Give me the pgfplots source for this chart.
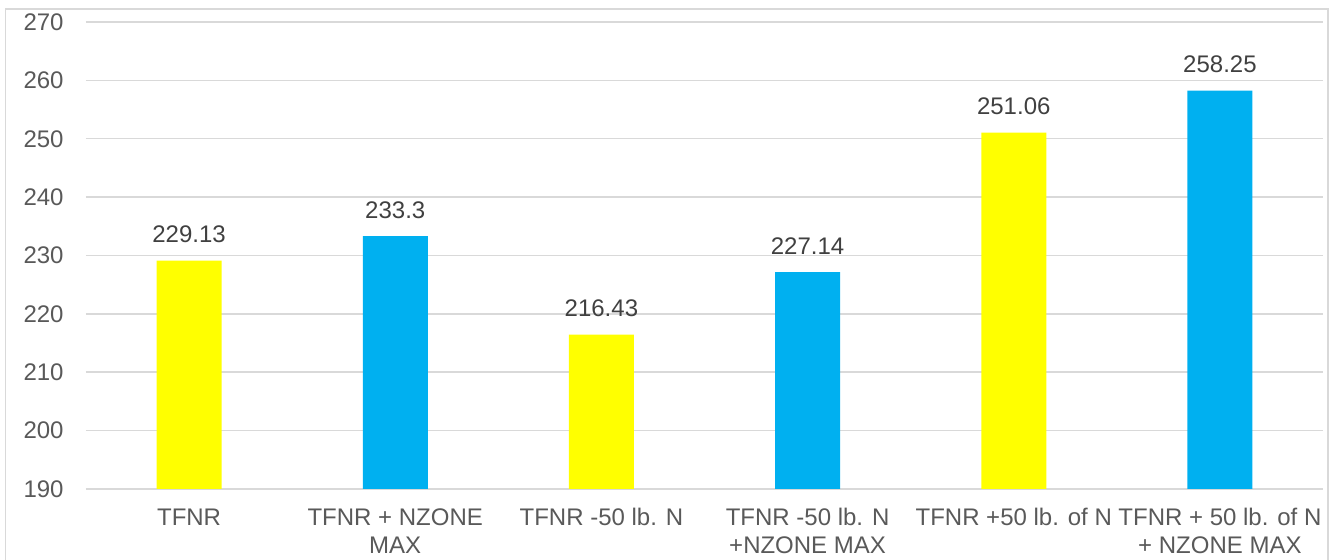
\documentclass[border=0pt]{standalone}
\usepackage{fontspec}
\setmainfont{Liberation Sans}
\usepackage{pgfplots}
\pgfplotsset{compat=1.18}
\definecolor{gridgray}{HTML}{D9D9D9}
\definecolor{ticktext}{HTML}{595959}
\definecolor{labeltext}{HTML}{404040}
\definecolor{baryellow}{HTML}{FFFF00}
\definecolor{barblue}{HTML}{00B0F0}
\begin{document}
\begin{tikzpicture}
\useasboundingbox (-43pt,-35.5pt) rectangle (622.5pt,244.5pt);
\draw[gridgray, line width=0.9pt] (-40.25pt,-40pt) -- (-40.25pt,240pt) -- (621pt,240pt) -- (621pt,-40pt);
\begin{axis}[
  at={(0,0)}, anchor=south west,
  scale only axis, width=618.5pt, height=233.5pt,
  xmin=-0.5, xmax=5.5, ymin=190, ymax=270,
  ytick={190,200,...,270},
  xtick={0,1,2,3,4,5},
  xticklabels={{TFNR\\\mbox{}}, {TFNR + NZONE\\MAX}, {TFNR -50 lb. N\\\mbox{}}, {TFNR -50 lb. N\\+NZONE MAX}, {TFNR +50 lb. of N\\\mbox{}}, {TFNR + 50 lb. of N\\+ NZONE MAX}},
  axis line style={draw=none},
  major tick length=0pt,
  ymajorgrids, grid style={gridgray, line width=0.75pt},
  /pgf/number format/assume math mode=true,
  yticklabel style={anchor=east, inner sep=0pt, xshift=-11pt, text=ticktext, font=\fontsize{12pt}{14pt}\selectfont},
  xticklabel style={anchor=base, inner sep=0pt, yshift=-32.25pt, align=center, text=ticktext, font=\fontsize{12pt}{13.75pt}\selectfont},
  ybar, bar width=32.5pt,
  every axis plot/.append style={bar shift=0pt, draw=none},
  nodes near coords, point meta=explicit symbolic,
  nodes near coords style={anchor=base, inner sep=0pt, yshift=9pt, text=labeltext, font=\fontsize{12pt}{14pt}\selectfont},
]
\addplot[fill=baryellow] coordinates {(0,229.13) [229.13] (2,216.43) [216.43] (4,251.06) [251.06]};
\addplot[fill=barblue] coordinates {(1,233.3) [233.3] (3,227.14) [227.14] (5,258.25) [258.25]};
\end{axis}
\end{tikzpicture}
\end{document}
